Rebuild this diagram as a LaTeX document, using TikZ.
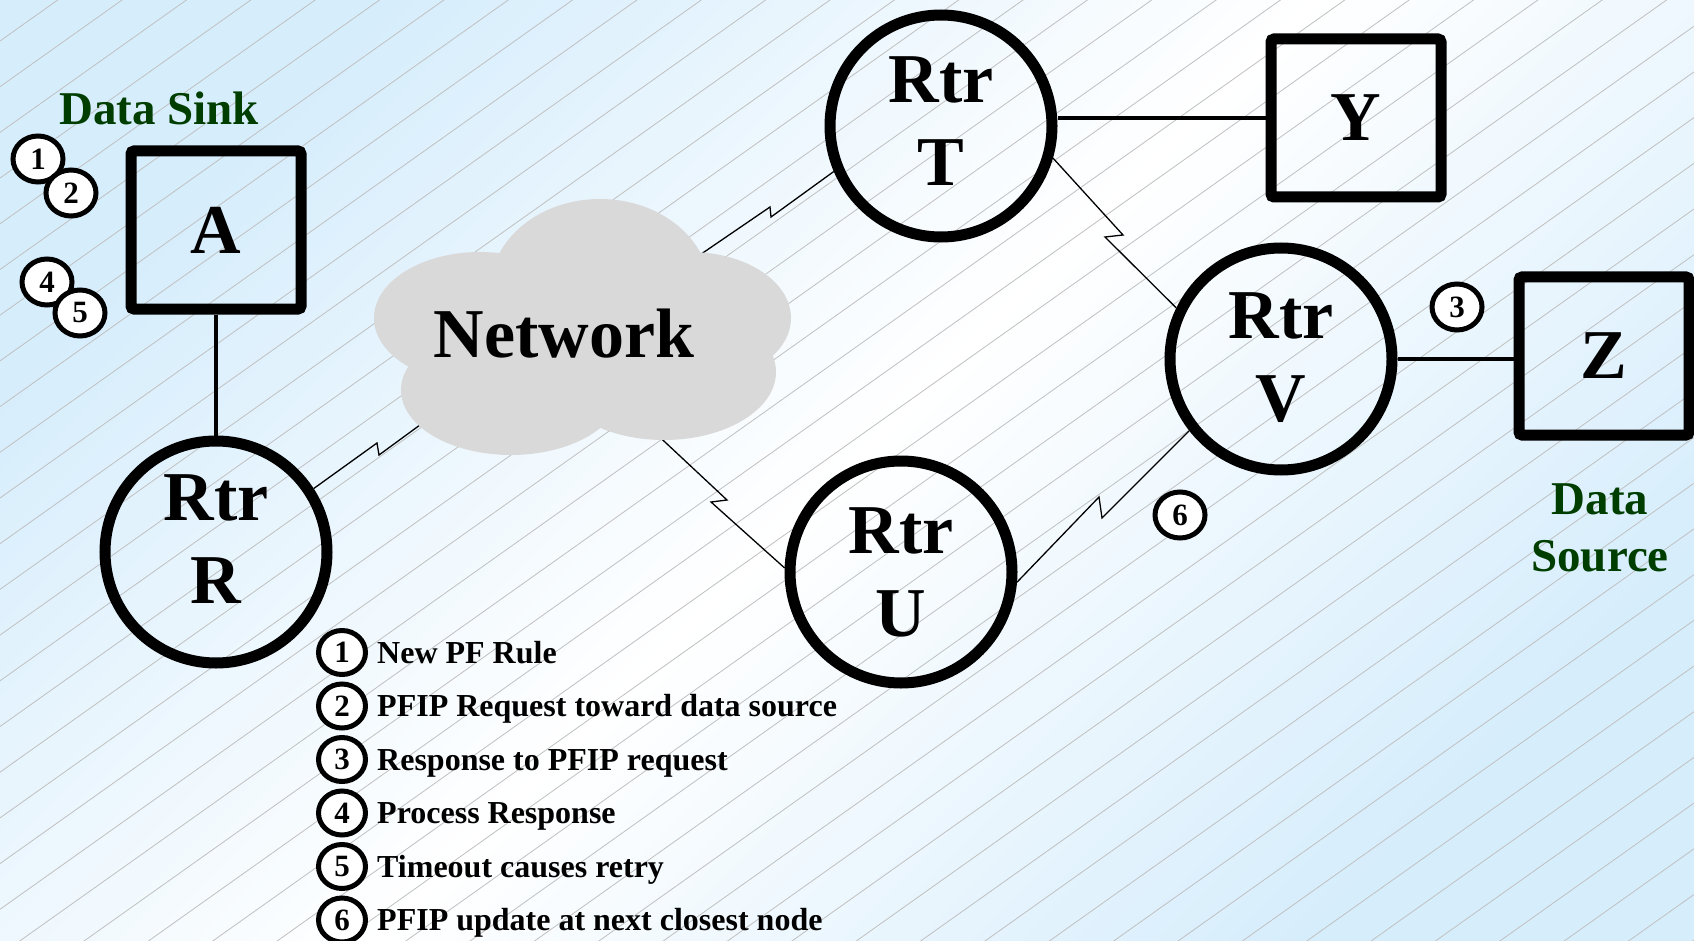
\documentclass[tikz,border=0pt]{standalone}
\usepackage{fontspec}
\setmainfont{Liberation Serif}
\usetikzlibrary{shapes.geometric,calc}
\definecolor{sinkgreen}{RGB}{0,62,0}
\definecolor{skyblue}{RGB}{214,237,252}
\definecolor{hatchgray}{RGB}{192,192,192}
\definecolor{cloudgray}{RGB}{217,217,217}

\begin{document}
\begin{tikzpicture}[x=1pt,y=-1pt,
  router/.style={circle,draw,line width=11pt,minimum size=222pt,inner sep=0pt,
    align=center,font=\bfseries\fontsize{70}{83}\selectfont},
  host/.style={rectangle,draw,line width=11pt,minimum width=170pt,minimum height=158pt,
    rounded corners=3pt,inner sep=0pt,font=\bfseries\fontsize{70}{83}\selectfont},
  tag/.style={ellipse,draw,fill=white,line width=5pt,minimum width=50pt,minimum height=46pt,
    inner sep=0pt,font=\bfseries\fontsize{31}{31}\selectfont},
  keytag/.style={tag,minimum width=47pt,minimum height=44pt},
  wire/.style={line width=4.5pt},
  bolt/.style={line width=1.3pt,line join=miter},
  hatchline/.style={hatchgray,line width=0.8pt},
  role/.style={text=sinkgreen,inner sep=0pt,align=center,font=\bfseries\fontsize{47}{57}\selectfont},
  keytext/.style={anchor=base west,inner sep=0pt,font=\bfseries\fontsize{32}{32}\selectfont}
]
\useasboundingbox (0,0) rectangle (1694,941);

% backdrop: diagonal blue-white-blue wash with fine slanted hatching
\shade[top color=skyblue,bottom color=skyblue,middle color=white,shading angle=45]
  (0,0) rectangle (1694,941);
\begin{scope}
  \clip (0,0) rectangle (1694,941);
  \foreach \k in {0,...,48}
    \draw[hatchline] (0,{41+45.7*\k}) -- (1694,{41+45.7*\k-1203});
\end{scope}

% routers and hosts
\node[router,text depth=26pt] (R) at (216,552) {Rtr\\R};
\node[router,text depth=10pt] (T) at (941,126) {Rtr\\T};
\node[router] (U) at (901,572) {Rtr\\U};
\node[router,text depth=4pt] (V) at (1281,359) {Rtr\\V};
\node[host] (A) at (216,230) {A};
\node[host] (Y) at (1356,118) {Y};
\node[host] (Z) at (1604,356) {Z};

% wired links
\draw[wire] (A) -- (R);
\draw[wire] (Y.west) -- (Y.west -| T.east);
\draw[wire] (V.east) -- (V.east -| Z.west);

% points inside the cloud where the WAN links end
\coordinate (cR) at (480,381);
\coordinate (cT) at (650,289);
\coordinate (cU) at (620,400);

% kinks of the lightning-bolt WAN links
\coordinate (b1a) at (377,443);  \coordinate (b1b) at (379,455);
\coordinate (b2a) at (770,207);  \coordinate (b2b) at (771,217);
\coordinate (b3a) at (1123,235); \coordinate (b3b) at (1105,237);
\coordinate (b4a) at (727,500);  \coordinate (b4b) at (711,502);
\coordinate (b5a) at (1102,518); \coordinate (b5b) at (1099,497);

\draw[bolt] (R.33) -- (b1a) -- (b1b) -- (cR);
\draw[bolt] (cT) -- (b2a) -- (b2b) -- (T.203);
\draw[bolt] (T.-16) -- (b3a) -- (b3b) -- (V.154);
\draw[bolt] (cU) -- (b4a) -- (b4b) -- (U.178);
\draw[bolt] (V.218) -- (b5a) -- (b5b) -- (U.-5);

% the network cloud
\fill[cloudgray] (600,290) ellipse [x radius=110, y radius=91];
\fill[cloudgray] (480,318) ellipse [x radius=106, y radius=66];
\fill[cloudgray] (690,318) ellipse [x radius=101, y radius=66];
\fill[cloudgray] (511,390) ellipse [x radius=110, y radius=65];
\fill[cloudgray] (664,372) ellipse [x radius=112, y radius=68];
\node[anchor=base,inner sep=0pt,font=\bfseries\fontsize{70}{83}\selectfont] (net) at (564,357) {Network};

% role labels
\node[role,anchor=base] (sink) at (159,125) {Data Sink};
\node[role] (source) at (1600,528) {Data\\Source};

% step markers
\node[tag] (s1) at (38,159) {1};
\node[tag] (s2) at (71,193) {2};
\node[tag] (s4) at (47,282) {4};
\node[tag] (s5) at (80,313) {5};
\node[tag] (s3) at (1457,307) {3};
\node[tag] (s6) at (1180,515) {6};

% key
\foreach \i/\txt in {1/New PF Rule,
                     2/PFIP Request toward data source,
                     3/Response to PFIP request,
                     4/Process Response,
                     5/Timeout causes retry,
                     6/PFIP update at next closest node} {
  \node[keytag] (k\i) at (342,{652.5+53.5*(\i-1)}) {\i};
  \node[keytext] (m\i) at (377,{663+53.5*(\i-1)}) {\txt};
}
\end{tikzpicture}
\end{document}
